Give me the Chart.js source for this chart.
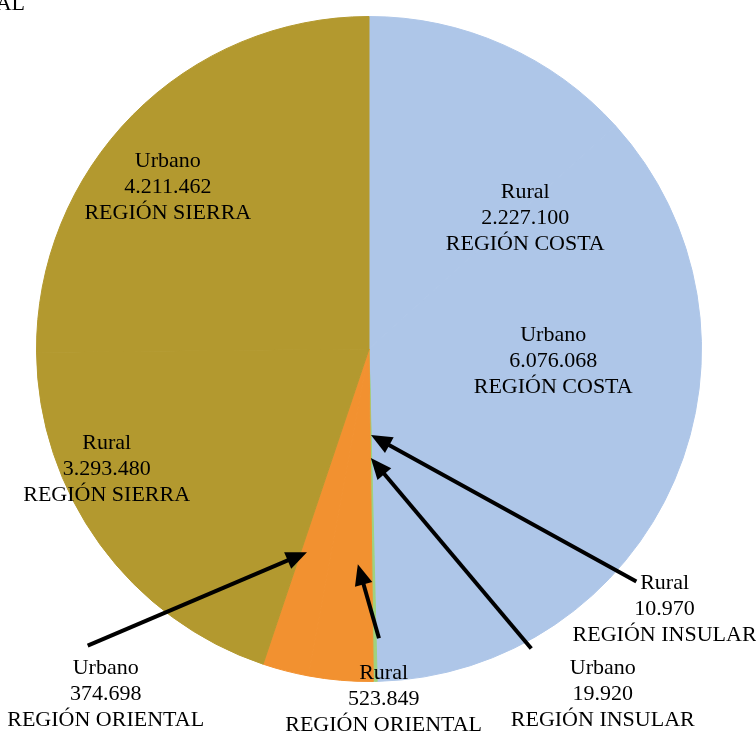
<!DOCTYPE html>
<html>
<head>
<meta charset="utf-8">
<script src="https://cdn.jsdelivr.net/npm/chart.js@4/dist/chart.umd.min.js"></script>
<style>
  html, body { margin: 0; padding: 0; background: #ffffff; }
  #wrap { position: relative; width: 756px; height: 734px; overflow: hidden; }
</style>
</head>
<body>
<div id="wrap"><canvas id="c" width="756" height="734"></canvas></div>
<script>
// ---- data ----
const regions   = ['REGIÓN COSTA', 'REGIÓN COSTA', 'REGIÓN INSULAR', 'REGIÓN INSULAR',
                   'REGIÓN ORIENTAL', 'REGIÓN ORIENTAL', 'REGIÓN SIERRA', 'REGIÓN SIERRA'];
const areaTypes = ['Rural', 'Urbano', 'Rural', 'Urbano', 'Rural', 'Urbano', 'Rural', 'Urbano'];
const population = [2227100, 6076068, 10970, 19920, 523849, 374698, 3293480, 4211462];
const regionColors = {
  'REGIÓN COSTA': '#AEC6E8',
  'REGIÓN INSULAR': '#9FD27E',
  'REGIÓN ORIENTAL': '#F29130',
  'REGIÓN SIERRA': '#B3992F'
};
const titleFragment = 'AL';

// label placement (relative to pie centre, in units of the pie radius; y = baseline of number line)
const labelX = [0.470, 0.554, 0.889, 0.703, 0.044, -0.792, -0.789, -0.605];
const labelY = [-0.375, 0.054, 0.801, 1.057, 1.072, 1.057, 0.380, -0.470];
// arrows: tail in radius units, tip as (fraction of slice angle, fraction of radius)
const arrowTail = [null, null, [0.804, 0.699], [0.488, 0.901], [0.030, 0.870], [-0.846, 0.892], null, null];
const arrowTip  = [null, null, [0.5, 0.259], [0.5, 0.328], [0.33, 0.648], [0.80, 0.639], null, null];

function fmt(n) { return String(n).replace(/\B(?=(\d{3})+(?!\d))/g, '.'); }

const FONT = '22px "Liberation Serif", "Times New Roman", serif';
const LINE = 26;

const labelPlugin = {
  id: 'sliceLabels',
  afterDatasetsDraw(chart) {
    const ctx = chart.ctx;
    const meta = chart.getDatasetMeta(0);
    ctx.save();
    // arrows
    meta.data.forEach((arc, i) => {
      if (!arrowTail[i]) return;
      const p = arc.getProps(['x', 'y', 'outerRadius', 'startAngle', 'endAngle'], true);
      const R = p.outerRadius;
      const tx = p.x + arrowTail[i][0] * R, ty = p.y + arrowTail[i][1] * R;
      const a = p.startAngle + arrowTip[i][0] * (p.endAngle - p.startAngle);
      const hx = p.x + Math.cos(a) * arrowTip[i][1] * R, hy = p.y + Math.sin(a) * arrowTip[i][1] * R;
      const ang = Math.atan2(hy - ty, hx - tx);
      const headLen = 21, headW = 9;
      const bx = hx - Math.cos(ang) * headLen, by = hy - Math.sin(ang) * headLen;
      ctx.strokeStyle = '#000'; ctx.fillStyle = '#000';
      ctx.lineWidth = 4; ctx.lineCap = 'butt';
      ctx.beginPath(); ctx.moveTo(tx, ty); ctx.lineTo(bx + Math.cos(ang) * 2, by + Math.sin(ang) * 2); ctx.stroke();
      ctx.beginPath();
      ctx.moveTo(hx, hy);
      ctx.lineTo(bx + Math.sin(ang) * headW, by - Math.cos(ang) * headW);
      ctx.lineTo(bx - Math.sin(ang) * headW, by + Math.cos(ang) * headW);
      ctx.closePath(); ctx.fill();
    });
    // labels
    ctx.font = FONT;
    ctx.fillStyle = '#000';
    ctx.textAlign = 'center';
    ctx.textBaseline = 'alphabetic';
    meta.data.forEach((arc, i) => {
      const p = arc.getProps(['x', 'y', 'outerRadius'], true);
      const R = p.outerRadius;
      const cx = p.x + labelX[i] * R, cy = p.y + labelY[i] * R;
      ctx.fillText(areaTypes[i], cx, cy - LINE);
      ctx.fillText(fmt(population[i]), cx, cy);
      ctx.fillText(regions[i], cx, cy + LINE);
    });
    // clipped title fragment
    ctx.textAlign = 'right';
    ctx.fillText(titleFragment, 25, 10);
    ctx.restore();
  }
};

const sliceColors = regions.map(r => regionColors[r]);

new Chart(document.getElementById('c'), {
  type: 'pie',
  data: {
    labels: areaTypes.map((t, i) => t + ' ' + regions[i]),
    datasets: [{
      data: population,
      backgroundColor: sliceColors,
      borderColor: sliceColors,
      borderWidth: 1
    }]
  },
  options: {
    responsive: false,
    animation: false,
    layout: { padding: { left: 36, right: 54, top: 16, bottom: 52 } },
    plugins: { legend: { display: false }, tooltip: { enabled: false }, title: { display: false } }
  },
  plugins: [labelPlugin]
});
</script>
</body>
</html>
